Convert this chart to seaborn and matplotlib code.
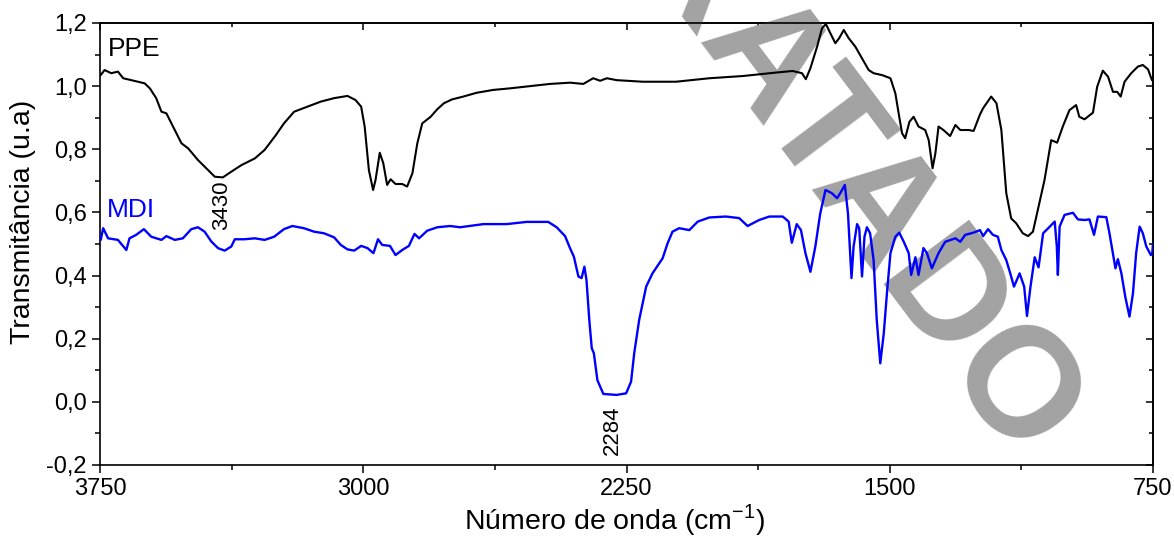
import matplotlib
matplotlib.use("Agg")
import matplotlib.pyplot as plt
from matplotlib.ticker import MultipleLocator, FuncFormatter
import seaborn as sns
import pandas as pd

# ------------------------------------------------------------
# Data (wavenumber in cm-1, transmittance)
# ------------------------------------------------------------

ppe_wn = [3748, 3737, 3718, 3699, 3684, 3661, 3642, 3623, 3608, 3590, 3575, 3561,
          3542, 3518, 3499, 3471, 3442, 3423, 3400, 3376, 3347, 3309, 3281, 3249,
          3226, 3197, 3159, 3121, 3083, 3045, 3022, 3006, 2996, 2984, 2972, 2965,
          2953, 2943, 2932, 2922, 2908, 2889, 2875, 2860, 2846, 2832, 2808, 2789,
          2770, 2747, 2715, 2677, 2630, 2582, 2525, 2468, 2411, 2373, 2345, 2325,
          2306, 2278, 2246, 2204, 2109, 2014, 1919, 1824, 1777, 1750, 1739, 1726,
          1707, 1693, 1682, 1669, 1655, 1644, 1631, 1617, 1598, 1579, 1560, 1546,
          1522, 1498, 1484, 1473, 1465, 1456, 1444, 1432, 1418, 1399, 1389, 1378,
          1370, 1361, 1347, 1328, 1313, 1299, 1275, 1261, 1243, 1234, 1211, 1196,
          1182, 1168, 1154, 1140, 1121, 1106, 1092, 1078, 1059, 1040, 1023, 1007,
          988, 969, 960, 945, 921, 909, 893, 878, 864, 852, 842, 831, 812, 793,
          779, 764, 753]
ppe_t = [1.035, 1.051, 1.041, 1.046, 1.025, 1.019, 1.014, 1.009, 0.993, 0.962, 0.919, 0.914,
         0.872, 0.819, 0.803, 0.766, 0.734, 0.713, 0.711, 0.729, 0.750, 0.771, 0.798, 0.845,
         0.882, 0.919, 0.935, 0.951, 0.962, 0.969, 0.956, 0.935, 0.872, 0.734, 0.671, 0.703,
         0.789, 0.756, 0.687, 0.705, 0.690, 0.690, 0.682, 0.724, 0.819, 0.882, 0.903, 0.927,
         0.946, 0.958, 0.967, 0.979, 0.988, 0.993, 1.000, 1.007, 1.011, 1.007, 1.025, 1.017,
         1.025, 1.019, 1.017, 1.014, 1.014, 1.025, 1.032, 1.043, 1.048, 1.041, 1.022, 1.057,
         1.125, 1.183, 1.197, 1.167, 1.136, 1.152, 1.178, 1.152, 1.125, 1.088, 1.051, 1.041,
         1.035, 1.025, 0.977, 0.903, 0.851, 0.835, 0.887, 0.903, 0.872, 0.861, 0.829, 0.740,
         0.787, 0.872, 0.861, 0.842, 0.877, 0.861, 0.861, 0.858, 0.910, 0.930, 0.967, 0.946,
         0.861, 0.661, 0.581, 0.566, 0.534, 0.525, 0.539, 0.608, 0.703, 0.829, 0.821, 0.872,
         0.924, 0.940, 0.903, 0.895, 0.916, 0.998, 1.049, 1.030, 0.982, 0.982, 0.967, 1.014,
         1.041, 1.062, 1.067, 1.053, 1.019]

mdi_wn = [3748, 3741, 3727, 3699, 3675, 3666, 3647, 3625, 3604, 3575, 3561, 3537,
          3514, 3490, 3471, 3452, 3433, 3414, 3395, 3376, 3366, 3338, 3309, 3281,
          3254, 3226, 3202, 3169, 3140, 3112, 3083, 3064, 3045, 3026, 3006, 2988,
          2971, 2958, 2946, 2924, 2908, 2889, 2870, 2854, 2841, 2818, 2789, 2753,
          2724, 2658, 2592, 2534, 2473, 2449, 2425, 2411, 2400, 2387, 2378, 2370,
          2364, 2356, 2349, 2343, 2333, 2316, 2278, 2251, 2237, 2228, 2214, 2194,
          2176, 2147, 2133, 2119, 2100, 2071, 2047, 2014, 1967, 1929, 1905, 1872,
          1843, 1805, 1788, 1779, 1765, 1753, 1740, 1726, 1712, 1698, 1683, 1665,
          1650, 1641, 1628, 1619, 1609, 1603, 1593, 1587, 1579, 1572, 1565, 1556,
          1546, 1537, 1527, 1517, 1508, 1498, 1484, 1473, 1460, 1446, 1439, 1427,
          1418, 1404, 1394, 1380, 1361, 1342, 1313, 1299, 1285, 1261, 1243, 1234,
          1220, 1206, 1192, 1182, 1168, 1158, 1146, 1130, 1117, 1109, 1099, 1087,
          1076, 1063, 1044, 1030, 1024, 1021, 1016, 1002, 978, 964, 945, 931,
          918, 907, 883, 874, 857, 850, 840, 829, 817, 807, 798, 788,
          779, 769, 756, 752, 750]
mdi_t = [0.513, 0.550, 0.518, 0.513, 0.481, 0.518, 0.529, 0.547, 0.523, 0.513, 0.525, 0.513,
         0.518, 0.547, 0.553, 0.539, 0.508, 0.487, 0.479, 0.492, 0.515, 0.515, 0.518, 0.513,
         0.523, 0.547, 0.557, 0.550, 0.539, 0.534, 0.521, 0.497, 0.483, 0.479, 0.494, 0.487,
         0.471, 0.515, 0.497, 0.494, 0.465, 0.481, 0.494, 0.532, 0.518, 0.542, 0.553, 0.557,
         0.553, 0.563, 0.563, 0.570, 0.570, 0.553, 0.525, 0.487, 0.460, 0.397, 0.392, 0.428,
         0.386, 0.259, 0.170, 0.154, 0.069, 0.025, 0.022, 0.027, 0.064, 0.154, 0.259, 0.365,
         0.407, 0.455, 0.502, 0.539, 0.550, 0.544, 0.571, 0.584, 0.587, 0.582, 0.557, 0.576,
         0.587, 0.587, 0.571, 0.504, 0.563, 0.544, 0.470, 0.412, 0.492, 0.597, 0.671, 0.661,
         0.645, 0.661, 0.687, 0.597, 0.392, 0.492, 0.563, 0.550, 0.397, 0.523, 0.553, 0.534,
         0.449, 0.259, 0.122, 0.217, 0.344, 0.471, 0.523, 0.536, 0.507, 0.471, 0.402, 0.458,
         0.402, 0.487, 0.471, 0.423, 0.471, 0.507, 0.518, 0.507, 0.529, 0.536, 0.544, 0.525,
         0.547, 0.529, 0.523, 0.481, 0.449, 0.412, 0.365, 0.407, 0.365, 0.272, 0.365, 0.458,
         0.426, 0.534, 0.555, 0.571, 0.492, 0.402, 0.555, 0.592, 0.599, 0.578, 0.576, 0.578,
         0.529, 0.587, 0.585, 0.534, 0.423, 0.452, 0.407, 0.333, 0.270, 0.344, 0.471, 0.555,
         0.534, 0.492, 0.465, 0.470, 0.500]

x_ticks = [3750, 3000, 2250, 1500, 750]
y_ticks = [-0.2, 0.0, 0.2, 0.4, 0.6, 0.8, 1.0, 1.2]
peak_labels = ["3430", "2284"]

# ------------------------------------------------------------
# Figure setup
# ------------------------------------------------------------

sns.set_style("ticks")
plt.rcParams["font.family"] = ["Liberation Sans", "DejaVu Sans"]
plt.rcParams["text.color"] = "black"
plt.rcParams["axes.labelcolor"] = "black"
plt.rcParams["xtick.color"] = "black"
plt.rcParams["ytick.color"] = "black"

fig = plt.figure(figsize=(11.74, 5.45), dpi=100)
ax = fig.add_axes([0.0852, 0.1468, 0.8969, 0.8110])

ppe = pd.DataFrame({"wn": ppe_wn, "t": ppe_t})
mdi = pd.DataFrame({"wn": mdi_wn, "t": mdi_t})

sns.lineplot(data=ppe, x="wn", y="t", color="black", linewidth=1.5,
             errorbar=None, ax=ax, zorder=3)
sns.lineplot(data=mdi, x="wn", y="t", color="#0000ff", linewidth=1.7,
             errorbar=None, ax=ax, zorder=3)

ax.set_xlim(3750, 750)
ax.set_ylim(-0.2, 1.2)
ax.set_xticks(x_ticks)
ax.set_yticks(y_ticks)
ax.xaxis.set_minor_locator(MultipleLocator(375))
ax.yaxis.set_minor_locator(MultipleLocator(0.1))
ax.yaxis.set_major_formatter(FuncFormatter(lambda v, p: f"{v:.1f}".replace(".", ",").replace("-0,0", "0,0")))
ax.tick_params(which="major", direction="out", length=6, width=1.1, labelsize=17,
               colors="black", labelcolor="black")
ax.tick_params(which="minor", direction="out", length=3.5, width=1.1)

# mirrored inward ticks on top and right
top = ax.secondary_xaxis("top")
top.set_xticks(x_ticks)
top.xaxis.set_minor_locator(MultipleLocator(375))
top.tick_params(which="both", direction="in", labeltop=False, width=1.1)
top.tick_params(which="major", length=5)
top.tick_params(which="minor", length=3)
right = ax.secondary_yaxis("right")
right.set_yticks(y_ticks)
right.yaxis.set_minor_locator(MultipleLocator(0.1))
right.tick_params(which="both", direction="in", labelright=False, width=1.1)
right.tick_params(which="major", length=5)
right.tick_params(which="minor", length=3)
for s in list(ax.spines.values()) + [top.spines["top"], right.spines["right"]]:
    s.set_linewidth(1.2)
    s.set_color("black")

ax.set_xlabel("Número de onda (cm$^{\\mathregular{-1}}$)", fontsize=20.5)
ax.set_ylabel("Transmitância (u.a)", fontsize=20.5)
ax.xaxis.set_label_coords(0.489, -0.084)
ax.yaxis.set_label_coords(-0.061, 0.55)

# series names and peak labels
ax.text(3727, 1.118, "PPE", fontsize=19, color="black", va="center", ha="left")
ax.text(3730, 0.608, "MDI", fontsize=19, color="#0000ff", va="center", ha="left")
ax.text(3405, 0.700, peak_labels[0], fontsize=16, rotation=90, ha="center", va="top")
ax.text(2291, -0.012, peak_labels[1], fontsize=16, rotation=90, ha="center", va="top")

# grey watermark behind the curves
ax.text(0.704, 0.735, "TRATADO", transform=fig.transFigure, fontsize=112,
        fontweight="bold", color="#a2a2a2", rotation=-53, rotation_mode="anchor",
        ha="center", va="center", zorder=0.5, clip_on=False)

fig.savefig("out.png", dpi=100)
